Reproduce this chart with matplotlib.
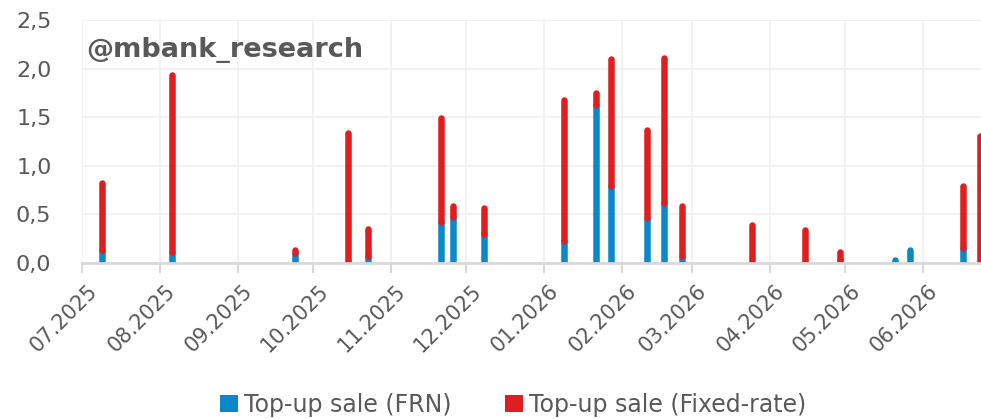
import numpy as np
import pandas as pd
import matplotlib
matplotlib.use("Agg")
import matplotlib.pyplot as plt
import matplotlib.dates as mdates
import matplotlib.transforms as mtransforms
from matplotlib.patches import Patch
from matplotlib.ticker import FuncFormatter, MultipleLocator

plt.rcParams['font.family'] = ['DejaVu Sans']

# auction dates and top-up sale volumes
sale_dates = ["2025-07-09", "2025-08-06", "2025-09-24", "2025-10-15", "2025-10-23",
              "2025-11-21", "2025-11-26", "2025-12-08", "2026-01-09", "2026-01-22",
              "2026-01-28", "2026-02-11", "2026-02-18", "2026-02-25", "2026-03-25",
              "2026-04-15", "2026-04-29", "2026-05-21", "2026-05-27", "2026-06-17",
              "2026-06-24"]
frn_sale = [0.13, 0.11, 0.10, 0.01, 0.07, 0.42, 0.47, 0.30, 0.23, 1.63, 0.79,
            0.46, 0.62, 0.07, 0.00, 0.01, 0.03, 0.03, 0.13, 0.15, 0.01]
fixed_sale = [0.69, 1.82, 0.03, 1.33, 0.28, 1.07, 0.12, 0.27, 1.45, 0.12, 1.31,
              0.91, 1.49, 0.52, 0.39, 0.33, 0.08, 0.00, 0.00, 0.64, 1.30]

BLUE = "#0A88CA"
RED = "#DF1F1F"
GREY_TXT = "#595959"

dates = pd.to_datetime(sale_dates)
frn = np.array(frn_sale)
fixed = np.array(fixed_sale)

fig = plt.figure(figsize=(9.81, 4.19), dpi=100)
ax = fig.add_axes([82/981, 1-263/419, 1-82/981, (263-20)/419])

bar_lw = 4.7
ax.vlines(dates, 0, frn, colors=BLUE, linewidth=bar_lw, capstyle="round", zorder=3)
ax.vlines(dates[fixed > 0], frn[fixed > 0], (frn + fixed)[fixed > 0], colors=RED,
          linewidth=bar_lw, capstyle="round", zorder=4)

ax.set_ylim(0, 2.5)
ax.set_xlim(pd.Timestamp("2025-07-01"), pd.Timestamp("2026-06-24 06:00"))
ax.yaxis.set_major_locator(MultipleLocator(0.5))
ax.yaxis.set_major_formatter(FuncFormatter(lambda v, p: f"{v:.1f}".replace(".", ",")))
ax.xaxis.set_major_locator(mdates.MonthLocator())
ax.xaxis.set_major_formatter(mdates.DateFormatter("%m.%Y"))

ax.grid(True, color="#f0f0f0", linewidth=1.2, zorder=0)
for s in ["top", "right", "left"]:
    ax.spines[s].set_visible(False)
ax.spines["bottom"].set_color("#d9d9d9")
ax.spines["bottom"].set_linewidth(2)
ax.spines["bottom"].set_zorder(5)

ax.tick_params(axis="y", length=0, pad=22, labelsize=16, labelcolor=GREY_TXT)
ax.tick_params(axis="x", length=7, width=1.5, color="#d9d9d9", pad=6,
               labelsize=15, labelcolor=GREY_TXT)
shift = mtransforms.ScaledTranslation(5/100, 0, fig.dpi_scale_trans)
for lab in ax.get_xticklabels():
    lab.set_rotation(45)
    lab.set_ha("right")
    lab.set_rotation_mode("anchor")
    lab.set_transform(lab.get_transform() + shift)

ax.text(0.005, 0.93, "@mbank_research", transform=ax.transAxes, fontsize=19.5,
        fontweight="bold", color=GREY_TXT, va="top", ha="left", zorder=6)

handles = [Patch(facecolor=BLUE, label="Top-up sale (FRN)"),
           Patch(facecolor=RED, label="Top-up sale (Fixed-rate)")]
leg = fig.legend(handles=handles, loc="lower center", bbox_to_anchor=(0.523, -0.045),
                 ncol=2, frameon=False, fontsize=17, handlelength=0.76,
                 handleheight=0.76, handletextpad=0.25, columnspacing=2.3,
                 labelcolor=GREY_TXT)

fig.savefig("out.png", dpi=100)
